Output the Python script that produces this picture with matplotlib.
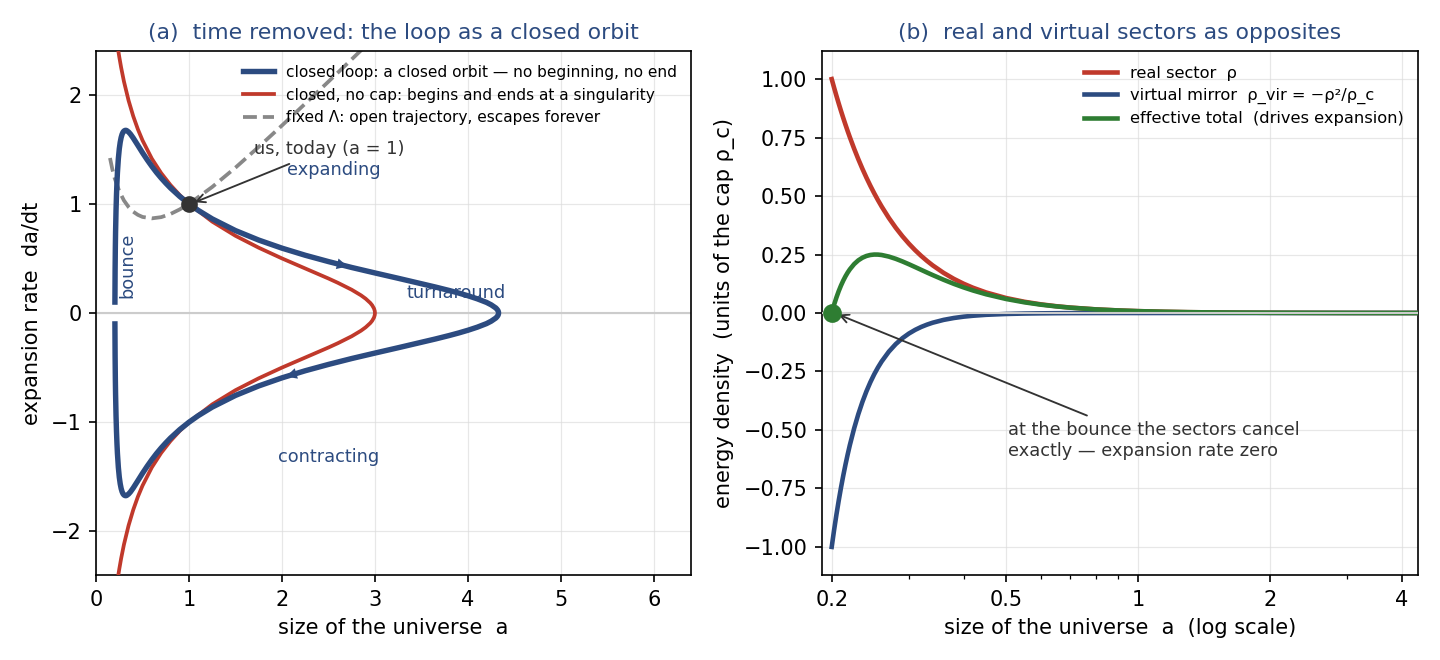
import numpy as np
import matplotlib
matplotlib.use("Agg")
import matplotlib.pyplot as plt
from matplotlib.ticker import FixedLocator, NullFormatter

BLUE = "#2c4b80"
RED = "#c0392b"
GREEN = "#2e7d32"
GRAY = "#888888"
INK = "#333333"

# (a) phase portrait, upper branches (lower branches are the mirror image)
loop_a = [0.203, 0.205, 0.2075, 0.21, 0.215, 0.22, 0.225, 0.23, 0.24, 0.25, 0.26, 0.27,
          0.28, 0.29, 0.30, 0.31, 0.32, 0.33, 0.35, 0.37, 0.40, 0.45, 0.50, 0.55, 0.60,
          0.65, 0.70, 0.75, 0.80, 0.90, 1.00, 1.10, 1.25, 1.50, 1.75, 2.00, 2.25, 2.50,
          2.75, 3.00, 3.25, 3.50, 3.65, 3.80, 3.90, 4.00, 4.10, 4.20, 4.25, 4.30, 4.31,
          4.32, 4.325, 4.328, 4.3295]
loop_rate = [0.10, 0.393, 0.599, 0.741, 0.943, 1.087, 1.198, 1.286, 1.415, 1.504, 1.565, 1.608,
             1.637, 1.656, 1.667, 1.672, 1.674, 1.671, 1.658, 1.639, 1.603, 1.536, 1.468, 1.404, 1.344,
             1.288, 1.237, 1.190, 1.146, 1.068, 1.000, 0.940, 0.862, 0.755, 0.668, 0.594, 0.529, 0.471,
             0.417, 0.367, 0.318, 0.268, 0.238, 0.206, 0.183, 0.158, 0.130, 0.097, 0.075, 0.046, 0.037,
             0.026, 0.018, 0.010, 0.0]

nocap_a = [0.20, 0.22, 0.24, 0.25, 0.27, 0.30, 0.35, 0.40, 0.45, 0.50, 0.60, 0.70, 0.80, 0.90,
           1.00, 1.25, 1.50, 1.75, 2.00, 2.25, 2.50, 2.60, 2.75, 2.85, 2.90, 2.95, 2.97, 2.99,
           2.998, 3.00]
nocap_rate = [2.646, 2.514, 2.398, 2.345, 2.248, 2.121, 1.946, 1.803, 1.683, 1.581, 1.414, 1.282,
              1.173, 1.080, 1.000, 0.837, 0.707, 0.598, 0.500, 0.408, 0.316, 0.277, 0.213, 0.162,
              0.131, 0.092, 0.071, 0.041, 0.018, 0.0]

lam_a = [0.15, 0.175, 0.20, 0.25, 0.30, 0.35, 0.40, 0.45, 0.50, 0.60, 0.70, 0.80, 0.90, 1.00,
         1.25, 1.50, 1.75, 2.00, 2.25, 2.50, 2.75, 3.00]
lam_rate = [1.420, 1.318, 1.236, 1.115, 1.031, 0.971, 0.928, 0.899, 0.880, 0.867, 0.878, 0.907,
            0.949, 1.000, 1.155, 1.332, 1.522, 1.718, 1.918, 2.120, 2.324, 2.530]

# (b) energy densities in units of rho_c
sec_a = [0.20, 0.2025, 0.205, 0.2075, 0.21, 0.2125, 0.215, 0.2175, 0.22, 0.225, 0.23, 0.235,
         0.24, 0.245, 0.25, 0.255, 0.26, 0.27, 0.28, 0.29, 0.30, 0.31, 0.32, 0.33, 0.34, 0.36,
         0.38, 0.40, 0.42, 0.45, 0.50, 0.55, 0.60, 0.65, 0.70, 0.80, 0.90, 1.00, 1.15, 1.30,
         1.50, 1.70, 2.00, 2.20, 3.00, 4.35]
rho_real = [1.000, 0.9634, 0.9286, 0.8955, 0.8638, 0.8337, 0.8050, 0.7775, 0.7513, 0.7023,
            0.6575, 0.6164, 0.5787, 0.5440, 0.5120, 0.4825, 0.4552, 0.4064, 0.3644, 0.3280,
            0.2963, 0.2685, 0.2441, 0.2226, 0.2035, 0.1715, 0.1458, 0.1250, 0.1080, 0.0878,
            0.0640, 0.0481, 0.0370, 0.0291, 0.0233, 0.0156, 0.0110, 0.0080, 0.0053, 0.0036,
            0.0024, 0.0016, 0.0010, 0.0008, 0.0003, 0.0001]
rho_vir = [-1.000, -0.9281, -0.8623, -0.8019, -0.7462, -0.6951, -0.6480, -0.6045, -0.5645,
           -0.4932, -0.4323, -0.3800, -0.3349, -0.2959, -0.2621, -0.2328, -0.2072, -0.1652,
           -0.1328, -0.1076, -0.0878, -0.0721, -0.0596, -0.0496, -0.0414, -0.0294, -0.0213,
           -0.0156, -0.0117, -0.0077, -0.0041, -0.0023, -0.0014, -0.0008, -0.0005, -0.0002,
           -0.0001, -0.0001, 0.0, 0.0, 0.0, 0.0, 0.0, 0.0, 0.0, 0.0]
rho_eff = [0.000, 0.0353, 0.0663, 0.0936, 0.1176, 0.1386, 0.1570, 0.1730, 0.1868, 0.2091,
           0.2252, 0.2364, 0.2438, 0.2481, 0.2499, 0.2497, 0.2480, 0.2412, 0.2316, 0.2204,
           0.2085, 0.1964, 0.1845, 0.1730, 0.1621, 0.1421, 0.1245, 0.1094, 0.0963, 0.0801,
           0.0599, 0.0458, 0.0356, 0.0283, 0.0228, 0.0154, 0.0109, 0.0079, 0.0053, 0.0036,
           0.0024, 0.0016, 0.0010, 0.0008, 0.0003, 0.0001]

fig = plt.figure(figsize=(9.6, 4.4), dpi=150)
ax1 = fig.add_axes([0.0667, 0.1288, 0.4132, 0.7939])
ax2 = fig.add_axes([0.5708, 0.1288, 0.4139, 0.7939])

# ---- panel (a)
la = np.array(loop_a)
lr = np.array(loop_rate)
ax1.axhline(0, color="#cccccc", lw=1, zorder=1)
# one path: expanding branch out to turnaround, contracting branch back to the bounce
ax1.plot(np.r_[la, la[::-1]], np.r_[lr, -lr[::-1]], color=BLUE, lw=2.6, zorder=4,
         label="closed loop: a closed orbit — no beginning, no end")
na = np.array(nocap_a)
nr = np.array(nocap_rate)
ax1.plot(np.r_[na, na[::-1]], np.r_[nr, -nr[::-1]], color=RED, lw=1.8, zorder=3,
         label="closed, no cap: begins and ends at a singularity")
ax1.plot(lam_a, lam_rate, color=GRAY, lw=1.8, ls="--", zorder=2,
         label="fixed Λ: open trajectory, escapes forever")

# direction arrows on the loop
i = loop_a.index(2.75)
ax1.annotate("", xy=(la[i], lr[i]), xytext=(la[i - 1], lr[i - 1]),
             arrowprops=dict(arrowstyle="-|>", color=BLUE, lw=0, mutation_scale=13), zorder=5)
j = loop_a.index(2.0)
ax1.annotate("", xy=(la[j], -lr[j]), xytext=(la[j + 1], -lr[j + 1]),
             arrowprops=dict(arrowstyle="-|>", color=BLUE, lw=0, mutation_scale=13), zorder=5)

ax1.plot([1], [1], "o", color=INK, ms=7, zorder=6)
ax1.text(1.70, 1.50, "us, today (a = 1)", color=INK, fontsize=8.5, va="center", ha="left")
ax1.annotate("", xy=(1.02, 1.0), xytext=(2.12, 1.38),
             arrowprops=dict(arrowstyle="->", color=INK, lw=0.9))
ax1.text(2.05, 1.31, "expanding", color=BLUE, fontsize=8.5, va="center", ha="left")
ax1.text(1.96, -1.32, "contracting", color=BLUE, fontsize=8.5, va="center", ha="left")
ax1.text(3.34, 0.18, "turnaround", color=BLUE, fontsize=8.5, va="center", ha="left")
ax1.text(0.34, 0.44, "bounce", color=BLUE, fontsize=8.5, va="center", ha="center", rotation=90)

ax1.set_xlim(0, 6.4)
ax1.set_ylim(-2.4, 2.4)
ax1.set_xticks([0, 1, 2, 3, 4, 5, 6])
ax1.set_yticks([-2, -1, 0, 1, 2])
ax1.grid(True, color="#dddddd", lw=0.6, alpha=0.7)
ax1.set_axisbelow(True)
ax1.set_xlabel("size of the universe  a", fontsize=10)
ax1.set_ylabel("expansion rate  da/dt", fontsize=10)
ax1.set_title("(a)  time removed: the loop as a closed orbit", color=BLUE, fontsize=10.5)
ax1.legend(loc="upper right", frameon=False, fontsize=7.4, labelspacing=0.5)

# ---- panel (b)
ax2.axhline(0, color="#cccccc", lw=1, zorder=4)
ax2.plot(sec_a, rho_real, color=RED, lw=2.2, zorder=3, label="real sector  ρ")
ax2.plot(sec_a, rho_vir, color=BLUE, lw=2.2, zorder=3,
         label="virtual mirror  ρ_vir = −ρ²/ρ_c")
ax2.plot(sec_a, rho_eff, color=GREEN, lw=2.2, zorder=3,
         label="effective total  (drives expansion)")
ax2.plot([sec_a[0]], [rho_eff[0]], "o", color=GREEN, ms=8, zorder=6)
ax2.text(0.505, -0.545, "at the bounce the sectors cancel\nexactly — expansion rate zero",
         color=INK, fontsize=8.5, va="center", ha="left")
ax2.annotate("", xy=(0.203, 0.0), xytext=(0.78, -0.445),
             arrowprops=dict(arrowstyle="->", color=INK, lw=0.9))

ax2.set_xscale("log")
ax2.set_xlim(0.19, 4.35)
ax2.set_ylim(-1.12, 1.12)
ax2.xaxis.set_major_locator(FixedLocator([0.2, 0.5, 1, 2, 4]))
ax2.set_xticklabels(["0.2", "0.5", "1", "2", "4"])
ax2.xaxis.set_minor_formatter(NullFormatter())
ax2.set_yticks([-1.0, -0.75, -0.5, -0.25, 0.0, 0.25, 0.5, 0.75, 1.0])
ax2.set_yticklabels(["−1.00", "−0.75", "−0.50", "−0.25", "0.00", "0.25", "0.50", "0.75", "1.00"])
ax2.grid(True, which="major", color="#dddddd", lw=0.6, alpha=0.7)
ax2.set_axisbelow(True)
ax2.set_xlabel("size of the universe  a  (log scale)", fontsize=10)
ax2.set_ylabel("energy density  (units of the cap ρ_c)", fontsize=10)
ax2.set_title("(b)  real and virtual sectors as opposites", color=BLUE, fontsize=10.5)
ax2.legend(loc="upper right", frameon=False, fontsize=7.8, labelspacing=0.45)

fig.savefig("out.png", dpi=150)
